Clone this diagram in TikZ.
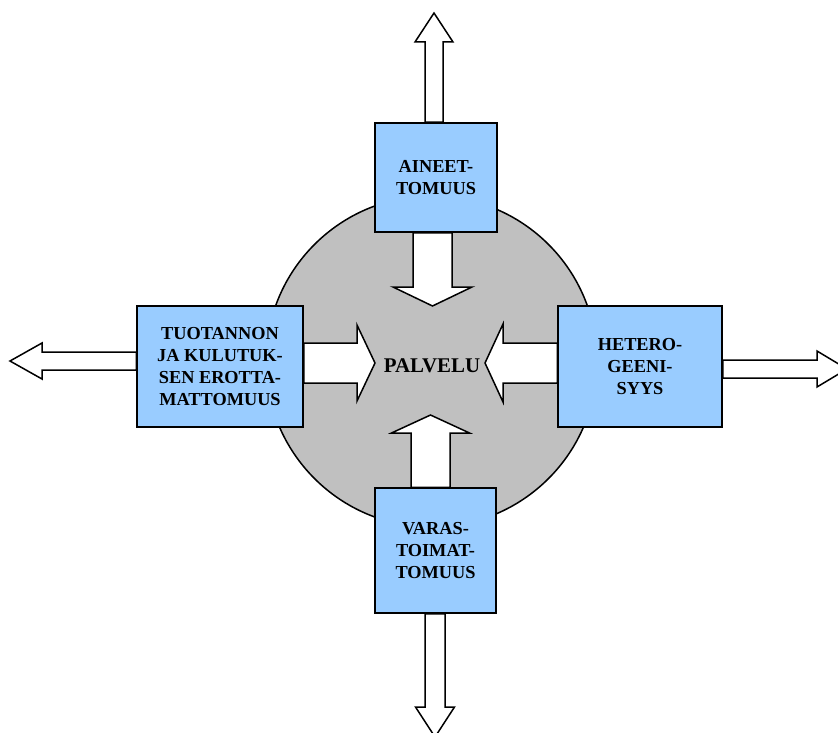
\documentclass[tikz,border=0pt]{standalone}
\usepackage{fontspec}
\setmainfont{Liberation Serif}
\usetikzlibrary{calc}
\definecolor{traitblue}{RGB}{153,204,255}
\definecolor{coregray}{RGB}{192,192,192}
\tikzset{
  trait/.style={draw, line width=1.5pt, fill=traitblue, align=center, inner sep=0pt,
    font=\fontsize{18.3}{22}\selectfont\bfseries},
  blockarrow/.style={draw, line width=1.5pt, fill=white, line join=miter},
}
% hollow block arrow: base, tip, shaft half width, head half width, head length
\newcommand{\hollowarrow}[5]{%
  \coordinate (arrbase) at (#1);
  \coordinate (arrtip) at (#2);
  \coordinate (arrhead) at ($(arrtip)!#5!(arrbase)$);
  \draw[blockarrow] ($(arrbase)!#3!90:(arrtip)$) -- ($(arrhead)!#3!90:(arrtip)$)
    -- ($(arrhead)!#4!90:(arrtip)$) -- (arrtip) -- ($(arrhead)!#4!-90:(arrtip)$)
    -- ($(arrhead)!#3!-90:(arrtip)$) -- ($(arrbase)!#3!-90:(arrtip)$) -- cycle;
}
\begin{document}
\begin{tikzpicture}[x=1pt, y=-1pt]
  \useasboundingbox (0,0) rectangle (838,733);
  % service core
  \node[circle, draw, line width=1.5pt, fill=coregray, minimum size=331pt, inner sep=0pt] (core) at (431.5,361.5) {};
  % four traits
  \node[trait, minimum width=122pt, minimum height=109pt] (aine) at (436,177.5) {AINEET-\\TOMUUS};
  \node[trait, minimum width=166pt, minimum height=121pt] (tuot) at (220,366.5) {TUOTANNON\\JA KULUTUK-\\SEN EROTTA-\\MATTOMUUS};
  \node[trait, minimum width=164pt, minimum height=121pt] (hete) at (640,366.5) {HETERO-\\GEENI-\\SYYS};
  \node[trait, minimum width=121pt, minimum height=125pt] (vara) at (435.5,550.5) {VARAS-\\TOIMAT-\\TOMUUS};
  % arrow tips
  \coordinate (inN) at (432.5,306);
  \coordinate (inW) at (375,363);
  \coordinate (inE) at (485,363);
  \coordinate (inS) at (430.5,415);
  \coordinate (outN) at (434,13);
  \coordinate (outW) at (10,361);
  \coordinate (outE) at (847,369);
  \coordinate (outS) at (435,737);
  % arrows into the core
  \hollowarrow{aine.south -| inN}{inN}{19.5pt}{39.5pt}{19pt}
  \hollowarrow{tuot.east |- inW}{inW}{20pt}{38pt}{18pt}
  \hollowarrow{hete.west |- inE}{inE}{20pt}{39pt}{18pt}
  \hollowarrow{vara.north -| inS}{inS}{19.5pt}{39pt}{18pt}
  % arrows out of the boxes
  \hollowarrow{aine.north -| outN}{outN}{9pt}{19pt}{29pt}
  \hollowarrow{tuot.west |- outW}{outW}{9pt}{18pt}{32pt}
  \hollowarrow{hete.east |- outE}{outE}{9pt}{18pt}{30pt}
  \hollowarrow{vara.south -| outS}{outS}{10pt}{19.5pt}{30pt}
  \node[inner sep=0pt, font=\fontsize{20.9}{24}\selectfont\bfseries] (palvelu) at (432,365.5) {PALVELU};
\end{tikzpicture}
\end{document}
